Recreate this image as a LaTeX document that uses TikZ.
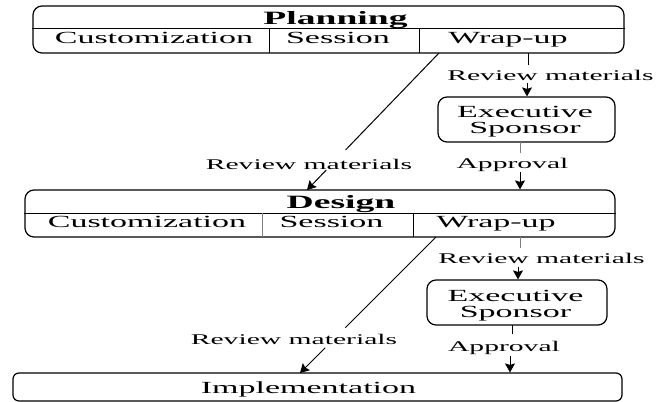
\documentclass[tikz,border=0pt]{standalone}
\usepackage{fontspec}
\setmainfont{Liberation Serif}
\usetikzlibrary{arrows.meta,calc}
\newcommand\wide[1]{\scalebox{2}[1]{#1}}
\begin{document}
\begin{tikzpicture}[x=1pt,y=-1pt,
  box/.style={draw, line width=1.2pt, rounded corners=9pt, inner sep=0pt},
  divline/.style={line width=1pt},
  cell/.style={inner sep=0pt, anchor=base, font=\fontsize{17}{16}\selectfont},
  ttl/.style={inner sep=0pt, anchor=base, font=\fontsize{18.8}{19}\selectfont\bfseries},
  lbl/.style={inner sep=0pt, anchor=base, font=\fontsize{14.8}{15}\selectfont},
  con/.style={line width=1pt},
  arr/.style={line width=1pt, -{Stealth[length=9pt,width=10pt,inset=1.5pt]}},
]
\useasboundingbox (0,0) rectangle (657,402);

% ---------- Planning ----------
\node[box, minimum width=591pt, minimum height=47pt] (plan) at (328.5,29.5) {};
\draw[divline] (plan.west |- 0,28) -- (plan.east |- 0,28);
\draw[divline] (269,28) -- (269,53);
\draw[divline] (419,28) -- (419,53);
\node[ttl] (plantitle) at (335.5,24.5) {\wide{Planning}};
\node[cell] (cust1) at (154,43) {\wide{Customization}};
\node[cell] (sess1) at (338,43) {\wide{Session}};
\node[cell] (wrap1) at (508,43) {\wide{Wrap-up}};

% ---------- Executive Sponsor 1 ----------
\node[box, minimum width=177pt, minimum height=45pt] (exec1) at (526.5,119.5) {};
\node[cell] (ex1a) at (525,117) {\wide{Executive}};
\node[cell] (ex1b) at (525,133) {\wide{Sponsor}};

% ---------- Design ----------
\node[box, minimum width=590pt, minimum height=47pt] (design) at (320,213.5) {};
\draw[divline] (design.west |- 0,213) -- (design.east |- 0,213);
\draw[divline, gray] (262,213) -- (262,237);
\draw[divline] (413,213) -- (413,237);
\node[ttl] (designtitle) at (341,208) {\wide{Design}};
\node[cell] (cust2) at (147,227) {\wide{Customization}};
\node[cell] (sess2) at (331.5,227) {\wide{Session}};
\node[cell] (wrap2) at (496,227) {\wide{Wrap-up}};

% ---------- Executive Sponsor 2 ----------
\node[box, minimum width=180pt, minimum height=45pt] (exec2) at (517,302.5) {};
\node[cell] (ex2a) at (515.5,301) {\wide{Executive}};
\node[cell] (ex2b) at (515.5,317) {\wide{Sponsor}};

% ---------- Implementation ----------
\node[box, rounded corners=6pt, minimum width=609pt, minimum height=28pt] (impl) at (317.5,387) {};
\node[cell] (impltext) at (308.5,393) {\wide{Implementation}};

% ---------- labels ----------
\node[lbl] (rmA) at (550.5,80) {\wide{Review materials}};
\node[lbl] (apA) at (512.5,168) {\wide{Approval}};
\node[lbl] (rmB) at (309,169) {\wide{Review materials}};
\node[lbl] (rmC) at (541.5,263) {\wide{Review materials}};
\node[lbl] (apC) at (504,351) {\wide{Approval}};
\node[lbl] (rmD) at (294,344) {\wide{Review materials}};

% ---------- connectors: Planning -> Exec 1 -> Design ----------
\coordinate (a1) at (528,53);
\coordinate (a2) at (528,65);
\coordinate (a3) at (527,83);
\draw[con] (a1) -- (a2);
\draw[arr] (a3) -- (a3 |- exec1.north);

\coordinate (b1) at (520,142);
\coordinate (b2) at (520,153);
\coordinate (b3) at (520,172);
\draw[con, gray] (b1) -- (b2);
\draw[arr] (b3) -- (b3 |- design.north);

% diagonal Planning -> Design
\coordinate (d1s) at (439,53);
\coordinate (d1e) at (307,190);
\draw[con] (d1s) -- ($(d1s)!0.708!(d1e)$);
\draw[arr] ($(d1s)!0.854!(d1e)$) -- (d1e);

% ---------- connectors: Design -> Exec 2 -> Implementation ----------
\coordinate (c1) at (520,237);
\coordinate (c2) at (520,248);
\coordinate (c3) at (518,267);
\draw[con, gray] (c1) -- (c2);
\draw[arr] (c3) -- (c3 |- exec2.north);

\coordinate (e1) at (512,325);
\coordinate (e2) at (512,334);
\coordinate (e3) at (510,356);
\draw[con] (e1) -- (e2);
\draw[arr] (e3) -- (e3 |- impl.north);

% diagonal Design -> Implementation
\coordinate (d2s) at (436,237);
\coordinate (d2e) at (300,373);
\draw[con] (d2s) -- ($(d2s)!0.667!(d2e)$);
\draw[arr] ($(d2s)!0.815!(d2e)$) -- (d2e);
\end{tikzpicture}
\end{document}
